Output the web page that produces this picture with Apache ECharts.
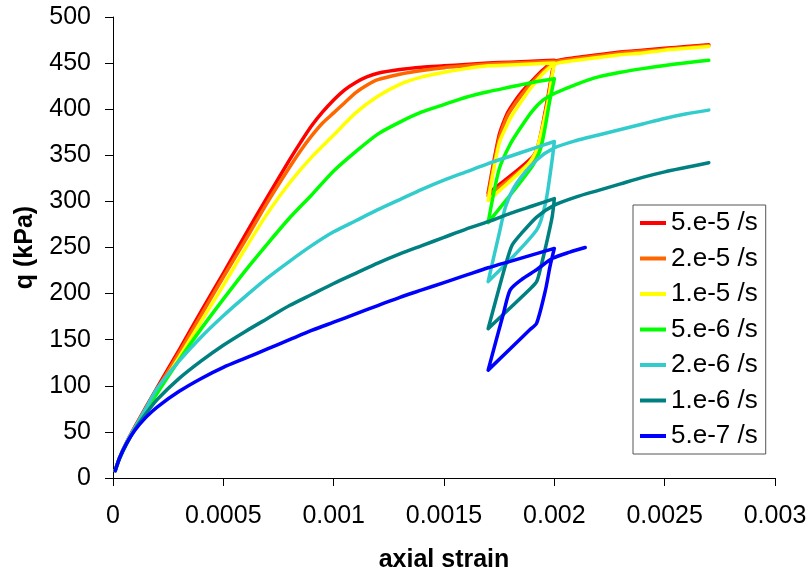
<!DOCTYPE html>
<html>
<head>
<meta charset="utf-8">
<script src="https://cdn.jsdelivr.net/npm/echarts@6/dist/echarts.min.js"></script>
<style>
html,body{margin:0;padding:0;background:#fff;}
#chart{width:809px;height:574px;}
</style>
</head>
<body>
<div id="chart"></div>
<script>
// ---- data (strain, q in kPa) ----
const seriesNames = ['5.e-5 /s', '2.e-5 /s', '1.e-5 /s', '5.e-6 /s', '2.e-6 /s', '1.e-6 /s', '5.e-7 /s'];
const xTickLabels = ['0', '0.0005', '0.001', '0.0015', '0.002', '0.0025', '0.003'];
const yTickLabels = ['0', '50', '100', '150', '200', '250', '300', '350', '400', '450', '500'];

const rate5e5 = [
  [0.00001,8],[0.00003,22],[0.00006,38],[0.0001,56],[0.0002,98],[0.0003,139],[0.0004,181],[0.0005,222],
  [0.0006,264],[0.0007,305],[0.0008,345],[0.00085,364],[0.0009,382],[0.00095,397],[0.001,410],[0.00105,421],
  [0.0011,429],[0.00115,435],[0.0012,439],[0.0013,443],[0.0014,445.5],[0.0015,447],[0.0016,448.5],[0.0017,450],
  [0.0018,451],[0.0019,452],[0.002,453],
  [0.00199,440],[0.00197,412],[0.00193,364],[0.0019,348],[0.0017,309],
  [0.00175,372],[0.00178,392],[0.0018,401],[0.00185,418],[0.0019,431],[0.00195,443],[0.002,452],
  [0.0021,456],[0.0022,459],[0.0023,462],[0.0024,464],[0.0025,466],[0.0026,468],[0.0027,470]
];
const rate2e5 = [
  [0.00001,8],[0.00003,22],[0.00006,37],[0.0001,55],[0.0002,96],[0.0003,136],[0.0004,177],[0.0005,218],
  [0.0006,258],[0.0007,299],[0.0008,337],[0.00085,355],[0.0009,371],[0.00095,385],[0.001,396],[0.00105,407],
  [0.0011,418],[0.00115,426],[0.0012,432],[0.0013,438],[0.0014,442],[0.0015,445],[0.0016,447],[0.0017,449],
  [0.0018,450],[0.0019,451],[0.002,452],
  [0.00199,438],[0.00197,410],[0.00193,361],[0.0019,345],[0.0017,306],
  [0.00175,368],[0.00178,389],[0.0018,398],[0.00185,415],[0.0019,429],[0.00195,441],[0.002,451],
  [0.0021,455],[0.0022,458],[0.0023,461],[0.0024,463],[0.0025,465],[0.0026,467],[0.0027,469]
];
const rate1e5 = [
  [0.00001,8],[0.00003,22],[0.00006,37],[0.0001,54],[0.0002,93],[0.0003,131],[0.0004,170],[0.0005,209],
  [0.0006,249],[0.0007,287],[0.0008,320],[0.0009,348],[0.001,372],[0.0011,396],[0.0012,414],[0.0013,427],
  [0.0014,435],[0.0015,440],[0.0016,444],[0.0017,447],[0.0018,448],[0.0019,449],[0.002,450],
  [0.00199,436],[0.00197,406],[0.00192,356],[0.00188,340],[0.0017,301],
  [0.00175,363],[0.00179,385],[0.00181,394],[0.00186,412],[0.0019,425],[0.00195,439],[0.002,449],
  [0.0021,453],[0.0022,456],[0.0023,459],[0.0024,461],[0.0025,464],[0.0026,466],[0.0027,468]
];
const rate5e6 = [
  [0.00001,8],[0.00003,22],[0.00006,37],[0.0001,54],[0.0002,92],[0.0003,128],[0.0004,162],[0.0005,194],
  [0.0006,225],[0.0007,254],[0.0008,282],[0.0009,307],[0.001,333],[0.0011,354],[0.0012,373],[0.0013,386],
  [0.0014,397],[0.0015,405],[0.0016,413],[0.0017,419],[0.0018,424],[0.0019,429],[0.002,433],
  [0.00198,410],[0.00194,359],[0.0019,338],[0.0017,277],
  [0.00175,335],[0.0018,362],[0.00185,381],[0.0019,398],[0.00195,410],[0.002,417],
  [0.0021,427],[0.0022,435],[0.0023,440],[0.0024,444],[0.0025,447.5],[0.0026,450.5],[0.0027,453]
];
const rate2e6 = [
  [0.00001,8],[0.00003,22],[0.00006,38],[0.0001,55],[0.00015,76],[0.0002,97],[0.0003,127],[0.0004,153],
  [0.0005,176],[0.0006,197],[0.0007,217],[0.0008,235],[0.0009,252],[0.001,267],[0.0011,279],[0.0012,291],
  [0.0013,302],[0.0014,313],[0.0015,323],[0.0016,332],[0.0017,341],[0.0018,349],[0.0019,357],[0.002,365],
  [0.00199,345],[0.00196,298],[0.00192,269],[0.0017,213],
  [0.00175,265],[0.00178,295],[0.00183,320],[0.00192,345],[0.002,358],
  [0.0021,366],[0.0022,372],[0.0023,378],[0.0024,384],[0.0025,390],[0.0026,395],[0.0027,399]
];
const rate1e6 = [
  [0.00001,8],[0.00003,21],[0.00006,36],[0.0001,53],[0.00015,70],[0.0002,85],[0.0003,108],[0.0004,127],
  [0.0005,144],[0.0006,159],[0.0007,173],[0.0008,187],[0.0009,199],[0.001,211],[0.0011,222],[0.0012,233],
  [0.0013,243],[0.0014,252],[0.0015,261],[0.0016,270],[0.0017,278],[0.0018,287],[0.0019,295],[0.002,303],
  [0.00199,283],[0.00196,250],[0.00194,230],[0.00192,213],[0.00189,205],[0.0017,162],
  [0.00176,215],[0.00179,240],[0.00181,253],[0.00185,265],[0.00192,283],[0.002,296],
  [0.0021,305],[0.0022,312],[0.0023,319],[0.0024,326],[0.0025,332],[0.0026,337],[0.0027,342]
];
const rate5e7 = [
  [0.00001,8],[0.00003,22],[0.00006,37],[0.0001,52],[0.00015,66],[0.0002,77],[0.0003,94],[0.0004,108],
  [0.0005,120],[0.0006,130],[0.0007,140],[0.0008,150],[0.0009,160],[0.001,169],[0.0011,178],[0.0012,187],
  [0.0013,196],[0.0014,204],[0.0015,212],[0.0016,220],[0.0017,228],[0.0018,235],[0.0019,242],[0.002,249],
  [0.00198,229],[0.00196,204],[0.00192,168],[0.00189,161],[0.0017,117],
  [0.00177,179],[0.0018,204],[0.00185,215],[0.00192,226],[0.00199,238],[0.00207,245],[0.00214,250]
];

const seriesData = [rate5e5, rate2e5, rate1e5, rate5e6, rate2e6, rate1e6, rate5e7];
const seriesColors = ['#FF0000', '#FF6600', '#FFFF00', '#00FF00', '#33CCCC', '#008080', '#0000FF'];

const FONT = 'Liberation Sans, Arial, Helvetica, sans-serif';
const chart = echarts.init(document.getElementById('chart'), null, {renderer: 'canvas'});

const option = {
  backgroundColor: '#ffffff',
  animation: false,
  grid: {left: 113, right: 34, top: 17, bottom: 96, containLabel: false, outerBoundsMode: 'none'},
  legend: {
    orient: 'vertical',
    left: 633, top: 205,
    padding: [5, 8, 5, 7],
    itemGap: 9.5,
    itemWidth: 26, itemHeight: 4,
    icon: 'rect',
    borderColor: '#555', borderWidth: 1,
    backgroundColor: '#fff',
    textStyle: {fontSize: 26, color: '#000', fontFamily: FONT},
    data: seriesNames
  },
  xAxis: {
    type: 'value', min: 0, max: 0.003, interval: 0.0005,
    name: 'axial strain', nameLocation: 'middle', nameGap: 70,
    nameTextStyle: {fontSize: 25, fontWeight: 'bold', color: '#000', fontFamily: FONT},
    axisLine: {show: true, onZero: false, lineStyle: {color: '#000', width: 1}},
    axisTick: {show: true, inside: false, length: 8, lineStyle: {color: '#000'}},
    splitLine: {show: false},
    axisLabel: {
      fontSize: 25, color: '#000', fontFamily: FONT, margin: 26,
      formatter: v => xTickLabels[Math.round(v / 0.0005)]
    }
  },
  yAxis: {
    type: 'value', min: 0, max: 500, interval: 50,
    name: 'q (kPa)', nameLocation: 'middle', nameGap: 75, nameRotate: 90,
    nameTextStyle: {fontSize: 25, fontWeight: 'bold', color: '#000', fontFamily: FONT},
    axisLine: {show: true, lineStyle: {color: '#000', width: 1}},
    axisTick: {show: true, inside: false, length: 8, lineStyle: {color: '#000'}},
    splitLine: {show: false},
    axisLabel: {
      fontSize: 25, color: '#000', fontFamily: FONT, margin: 22,
      formatter: v => yTickLabels[Math.round(v / 50)]
    }
  },
  series: seriesNames.map((name, i) => ({
    name: name,
    type: 'line',
    data: seriesData[i],
    symbol: 'none',
    showSymbol: false,
    smooth: 0.25,
    clip: true,
    color: seriesColors[i],
    lineStyle: {color: seriesColors[i], width: 3.5, join: 'round', cap: 'round'},
    z: 2 + i
  }))
};
chart.setOption(option);
</script>
</body>
</html>
